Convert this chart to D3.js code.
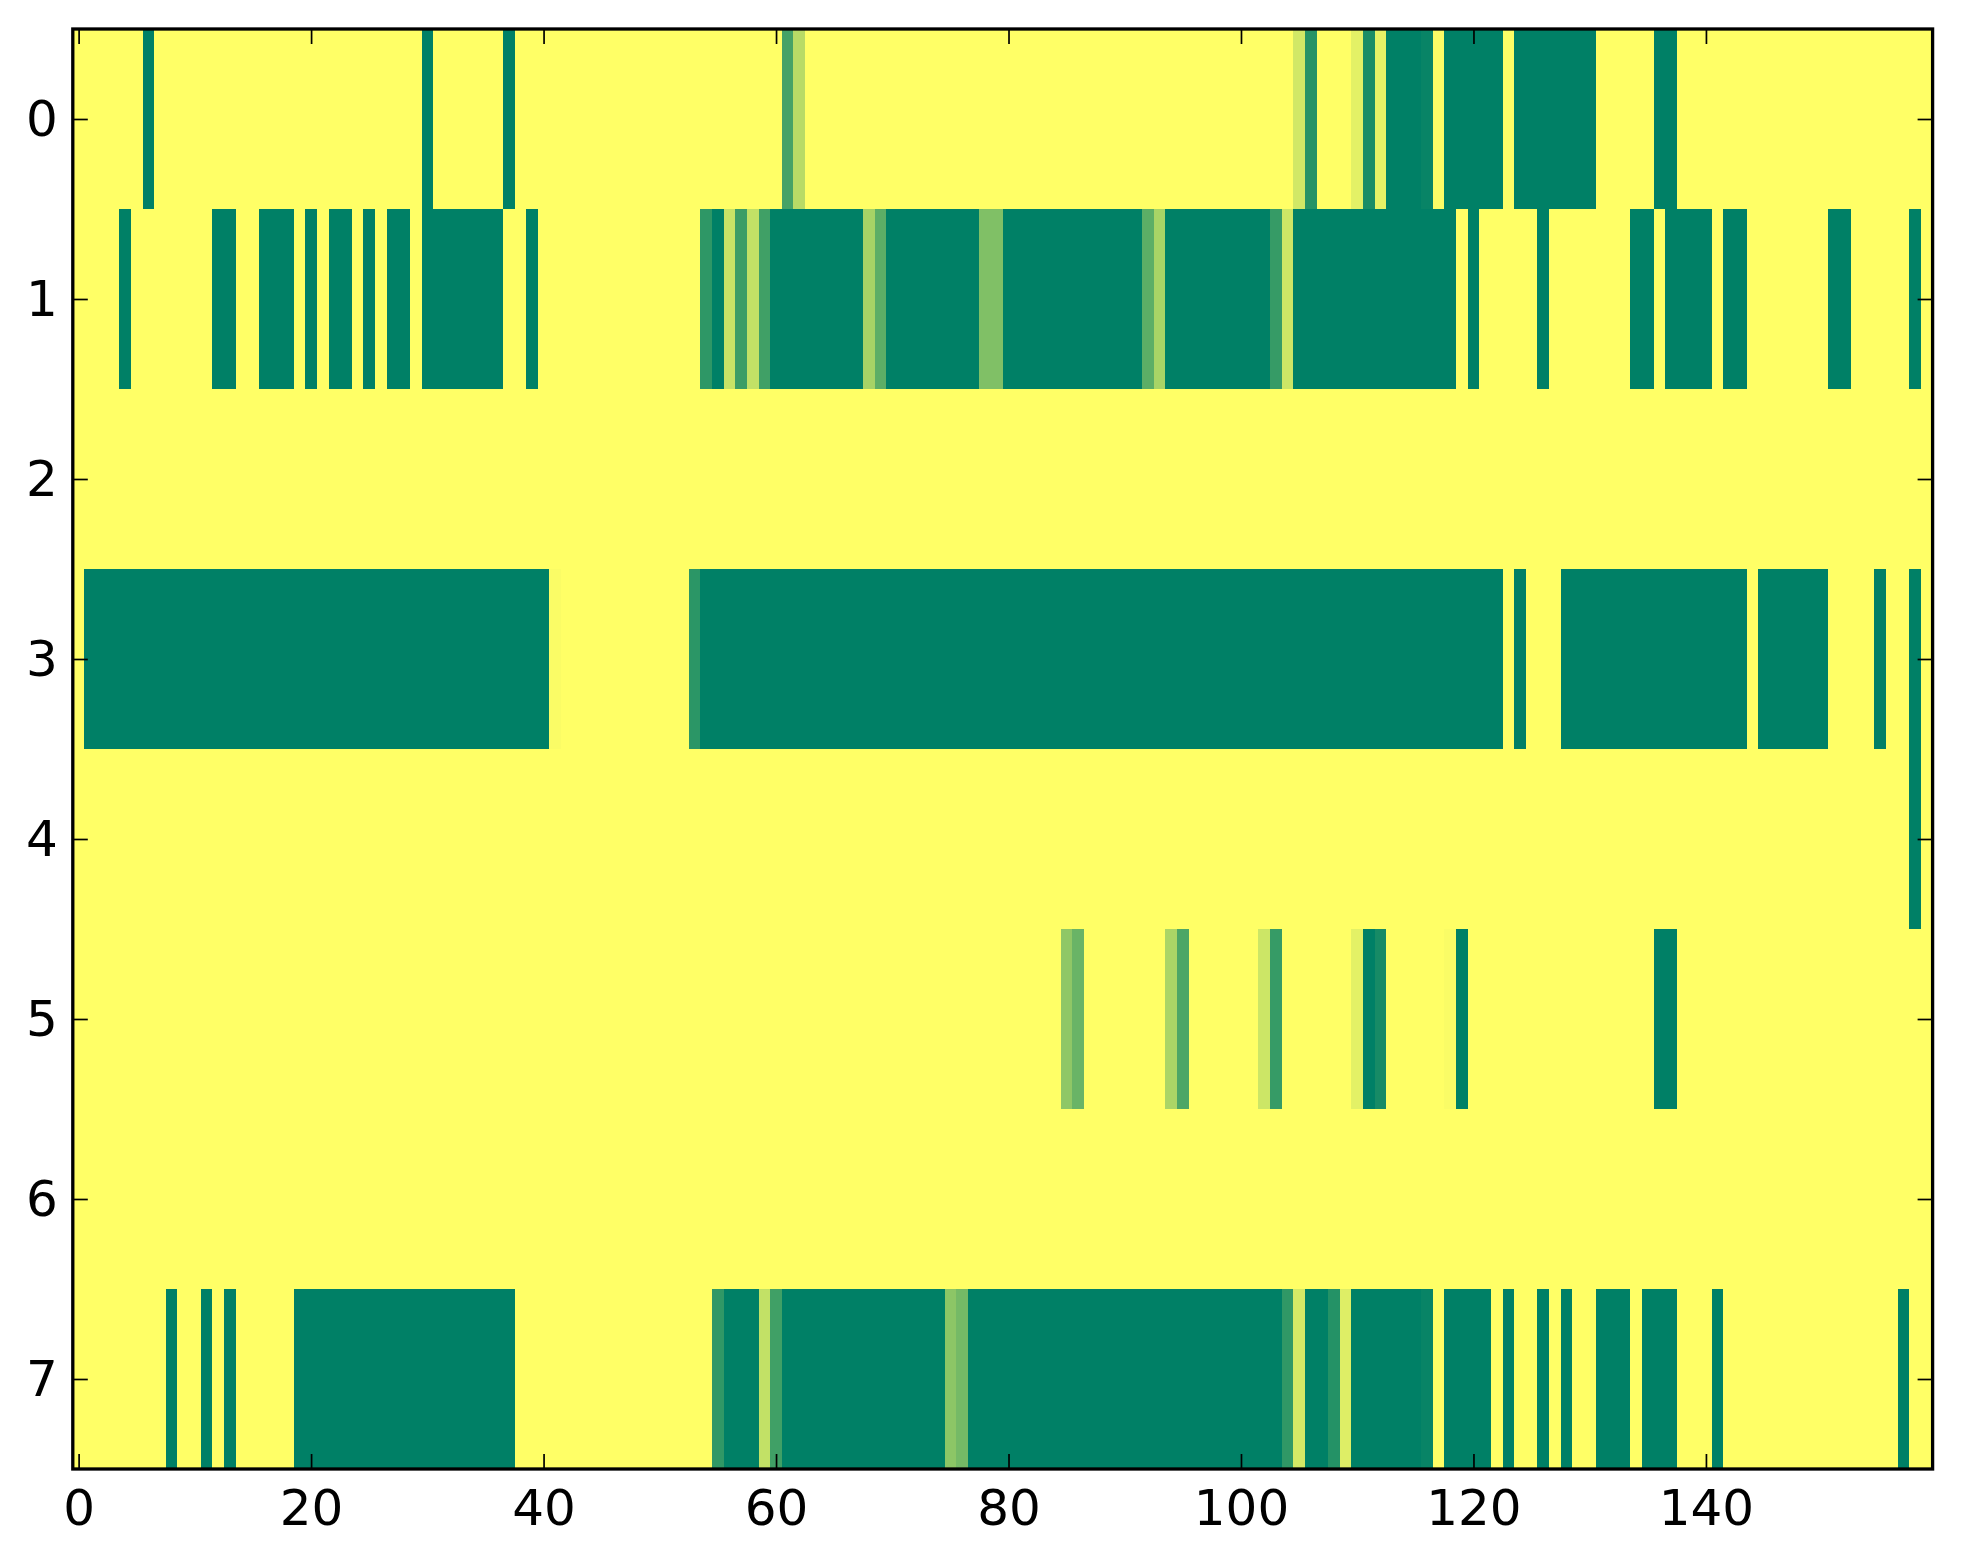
<!DOCTYPE html>
<html>
<head>
<meta charset="utf-8">
<script src="https://cdn.jsdelivr.net/npm/d3@7"></script>
<style>
body { margin:0; background:#fff; }
text { font-family: "DejaVu Sans", sans-serif; }
</style>
</head>
<body>
<div id="chart"></div>
<script>
// heatmap values, one list per row, given as runs [firstCol, lastCol, value]; all other cells are 0
var nCols = 160;
var rowLabels = [0, 1, 2, 3, 4, 5, 6, 7];
var xTicks = [0, 20, 40, 60, 80, 100, 120, 140];

var row0 = [[6,6,1],[30,30,1],[37,37,1],[61,61,0.73],[62,62,0.28],[105,105,0.18],[106,106,0.85],
	[110,110,0.11],[111,111,0.90],[112,112,0.10],[113,115,1],[116,116,0.97],[117,117,0.02],
	[118,122,1],[123,123,0.01],[124,130,1],[136,137,1]];
var row1 = [[4,4,1],[12,13,1],[16,18,1],[20,20,1],[22,23,1],[25,25,1],[27,28,1],[30,36,1],[39,39,1],
	[54,54,0.82],[55,55,1],[56,56,0.22],[57,57,0.77],[58,58,0.24],[59,59,0.75],[60,67,1],[68,68,0.35],
	[69,69,0.64],[70,77,1],[78,79,0.5],[80,91,1],[92,92,0.64],[93,93,0.34],[94,102,1],[103,103,0.79],
	[104,104,0.2],[105,118,1],[120,120,1],[126,126,1],[134,135,1],[137,140,1],[142,143,1],[151,152,1],
	[158,158,1]];
var row2 = [];
var row3 = [[1,40,1],[41,41,0.02],[53,53,0.83],[54,122,1],[124,124,1],[128,143,1],[145,150,1],
	[155,155,1],[158,158,1]];
var row4 = [[158,158,1]];
var row5 = [[85,85,0.44],[86,86,0.59],[94,94,0.33],[95,95,0.70],[102,102,0.2],[103,103,0.79],
	[110,110,0.11],[111,111,1],[112,112,0.91],[118,118,0.02],[119,119,1],[136,137,1]];
var row6 = [];
var row7 = [[8,8,1],[11,11,1],[13,13,1],[19,37,1],[55,55,0.81],[56,58,1],[59,59,0.24],[60,60,0.75],
	[61,74,1],[75,75,0.45],[76,76,0.54],[77,103,1],[104,104,0.81],[105,105,0.17],[106,107,1],
	[108,108,0.86],[109,109,0.13],[110,115,1],[116,116,0.97],[118,121,1],[123,123,1],[126,126,1],
	[128,128,1],[131,133,1],[135,137,1],[141,141,1],[157,157,1]];

var rows = [row0, row1, row2, row3, row4, row5, row6, row7];

var width = 1963, height = 1564;
var plotL = 72.8, plotR = 1932.6, plotT = 29, plotB = 1469;

var svg = d3.select("#chart").append("svg").attr("width", width).attr("height", height);

// build cell table from the runs
var cells = [];
for(var r=0;r<rows.length;r++)
{
	var line = new Array(nCols);
	for(var c=0;c<nCols;c++)
		line[c] = 0;
	rows[r].forEach(function(run)
	{
		for(var c=run[0];c<=run[1];c++)
			line[c] = run[2];
	});
	for(var c=0;c<nCols;c++)
		cells.push({row:r, col:c, v:line[c]});
}

var xscale = d3.scaleLinear().domain([-0.5, nCols-0.5]).range([plotL, plotR]);
var yscale = d3.scaleLinear().domain([-0.5, rowLabels.length-0.5]).range([plotT, plotB]);
// summer_r colormap
var color = d3.scaleLinear().domain([0, 1]).range(["#ffff66", "#008066"]);

svg.append("g").selectAll("rect").data(cells).enter().append("rect")
	.attr("x", function(d){ return xscale(d.col-0.5); })
	.attr("y", function(d){ return yscale(d.row-0.5); })
	.attr("width", function(d){ return xscale(d.col+0.5)-xscale(d.col-0.5)+0.4; })
	.attr("height", function(d){ return yscale(d.row+0.5)-yscale(d.row-0.5)+0.4; })
	.attr("fill", function(d){ return color(d.v); })
	.attr("shape-rendering", "crispEdges");

function styleAxis(g)
{
	g.select(".domain").remove();
	g.selectAll(".tick line").attr("stroke", "#000").attr("stroke-width", 1.7);
	g.selectAll(".tick text").attr("fill", "#000").style("font-size", "50px").style("font-family", "DejaVu Sans");
}

svg.append("g").attr("transform", "translate(0," + plotB + ")")
	.call(d3.axisBottom(xscale).tickValues(xTicks).tickSize(-15).tickPadding(20)).call(styleAxis);
svg.append("g").attr("transform", "translate(0," + plotT + ")")
	.call(d3.axisTop(xscale).tickValues(xTicks).tickSize(-15).tickFormat("")).call(styleAxis);
svg.append("g").attr("transform", "translate(" + plotL + ",0)")
	.call(d3.axisLeft(yscale).tickValues(rowLabels).tickSize(-15).tickPadding(15)).call(styleAxis);
svg.append("g").attr("transform", "translate(" + plotR + ",0)")
	.call(d3.axisRight(yscale).tickValues(rowLabels).tickSize(-15).tickFormat("")).call(styleAxis);

// frame
svg.append("rect").attr("x", plotL).attr("y", plotT).attr("width", plotR-plotL).attr("height", plotB-plotT)
	.attr("fill", "none").attr("stroke", "#000").attr("stroke-width", 3.3);
</script>
</body>
</html>
